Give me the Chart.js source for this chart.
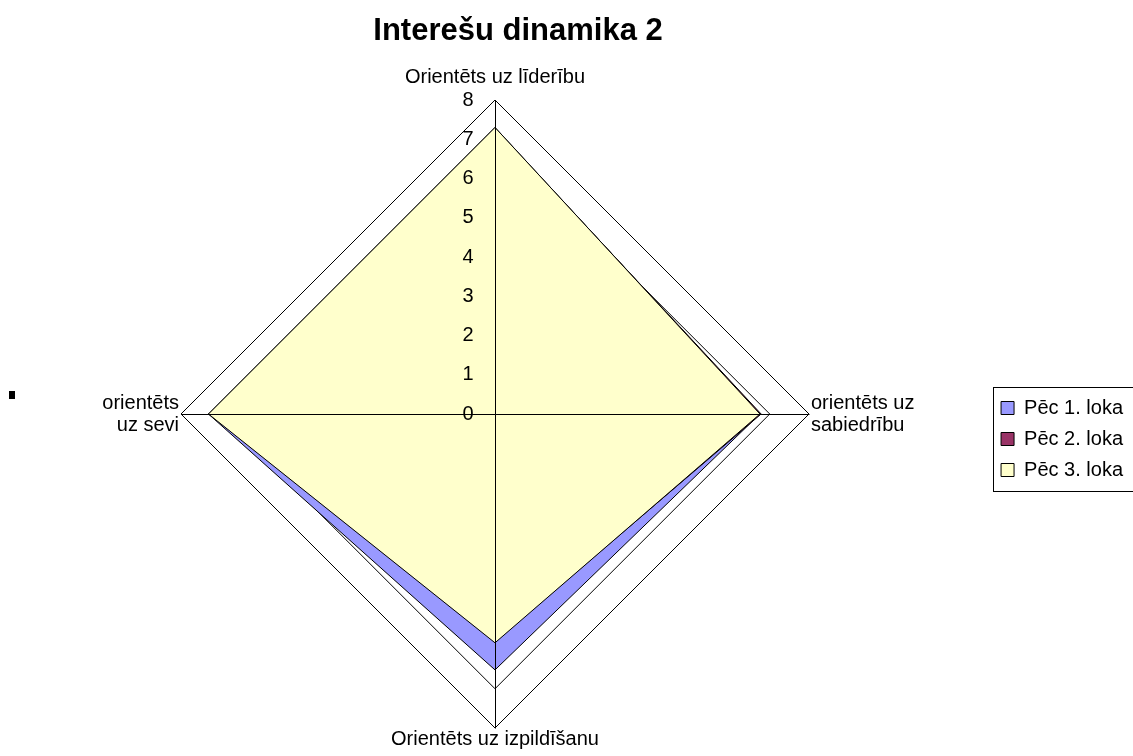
<!DOCTYPE html>
<html><head><meta charset="utf-8">
<script src="https://cdn.jsdelivr.net/npm/chart.js@4.4.1/dist/chart.umd.min.js"></script>
<style>
html,body{margin:0;padding:0;background:#fff;}
#wrap{position:relative;width:1133px;height:756px;overflow:hidden;}
#mark{position:absolute;left:9px;top:391px;width:6px;height:8px;background:#000;}
</style></head><body>
<div id="wrap"><canvas id="c" width="1133" height="756"></canvas><div id="mark"></div></div>
<script>
const chartTitle = 'Interešu dinamika 2';
const categories = [
  'Orientēts uz līderību',
  ['orientēts uz', 'sabiedrību'],
  'Orientēts uz izpildīšanu',
  ['orientēts', 'uz sevi']
];
const seriesNames = ['Pēc 1. loka', 'Pēc 2. loka', 'Pēc 3. loka'];
const pec1 = [7.3, 6.75, 6.52, 7.3];
const pec2 = [7.28, 6.78, 5.8, 7.28];
const pec3 = [7.3, 6.75, 5.83, 7.3];
const tickLabels = ['0', '1', '2', '3', '4', '5', '6', '7', '8'];

const FONT = '"Liberation Sans", Arial, sans-serif';

const overlay = {
  id: 'overlay',
  afterLayout(chart) {
    const tb = chart.titleBlock;
    if (tb) { tb.left += 23; tb.right += 23; }
  },
  afterDatasetsDraw(chart) {
    const s = chart.scales.r, ctx = chart.ctx;
    ctx.save();
    ctx.strokeStyle = '#000';
    ctx.lineWidth = 1;
    ctx.beginPath();
    for (let i = 0; i < categories.length; i++) {
      const p = s.getPointPosition(i, s.drawingArea);
      ctx.moveTo(s.xCenter + 0.5, s.yCenter + 0.5);
      ctx.lineTo(Math.round(p.x) + 0.5, Math.round(p.y) + 0.5);
    }
    ctx.stroke();
    ctx.font = '20px ' + FONT;
    ctx.fillStyle = '#000';
    ctx.textAlign = 'center';
    ctx.textBaseline = 'middle';
    s.ticks.forEach((t, i) => {
      const d = s.getDistanceFromCenterForValue(t.value);
      ctx.fillText(tickLabels[i] ?? t.label, s.xCenter - 27, s.yCenter - d);
    });
    ctx.restore();
  },
  afterDraw(chart) {
    const lg = chart.legend, ctx = chart.ctx;
    const hb = lg.legendHitBoxes;
    if (!hb || !hb.length) return;
    const left = Math.min(...hb.map(h => h.left)) - 8;
    const top = hb[0].top - 11;
    const last = hb[hb.length - 1];
    const bottom = last.top + last.height + 11;
    ctx.save();
    ctx.strokeStyle = '#000';
    ctx.lineWidth = 1;
    ctx.strokeRect(Math.round(left) + 0.5, Math.round(top) + 0.5, chart.width + 20 - left, Math.round(bottom - top));
    ctx.restore();
  }
};

new Chart(document.getElementById('c'), {
  type: 'radar',
  data: {
    labels: categories,
    datasets: [
      { label: seriesNames[0], data: pec1, backgroundColor: '#9999FF', borderColor: '#000', borderWidth: 1, fill: true, pointRadius: 0, order: 3 },
      { label: seriesNames[1], data: pec2, backgroundColor: '#993366', borderColor: '#000', borderWidth: 1, fill: true, pointRadius: 0, order: 2 },
      { label: seriesNames[2], data: pec3, backgroundColor: '#FFFFCC', borderColor: '#000', borderWidth: 1, fill: true, pointRadius: 0, order: 1 }
    ]
  },
  options: {
    responsive: false,
    animation: false,
    layout: { padding: { left: 0, right: 0, top: 0, bottom: 0 } },
    elements: { line: { tension: 0 } },
    scales: {
      r: {
        min: 0, max: 8,
        startAngle: 0,
        ticks: { stepSize: 1, display: false },
        grid: { color: '#000', lineWidth: 1, circular: false },
        angleLines: { display: false },
        pointLabels: {
          color: '#000',
          font: { family: FONT, size: 20, lineHeight: 1.1 },
          padding: (ctx) => [12, 2, 0, 2][ctx.index]
        }
      }
    },
    plugins: {
      title: {
        display: true, text: chartTitle, color: '#000', fullSize: false,
        font: { family: FONT, size: 31, weight: 'bold', lineHeight: 1.2 },
        padding: { top: 13, bottom: 9.8 }
      },
      legend: {
        position: 'right', fullSize: false, align: 'center',
        title: { display: true, text: '', padding: { top: 60, bottom: 0 }, font: { size: 2, lineHeight: 1 } },
        labels: {
          color: '#000', boxWidth: 13, boxHeight: 13, padding: 11,
          font: { family: FONT, size: 20 },
          sort: (a, b) => a.datasetIndex - b.datasetIndex
        }
      },
      tooltip: { enabled: false }
    }
  },
  plugins: [overlay]
});
</script>
</body></html>
